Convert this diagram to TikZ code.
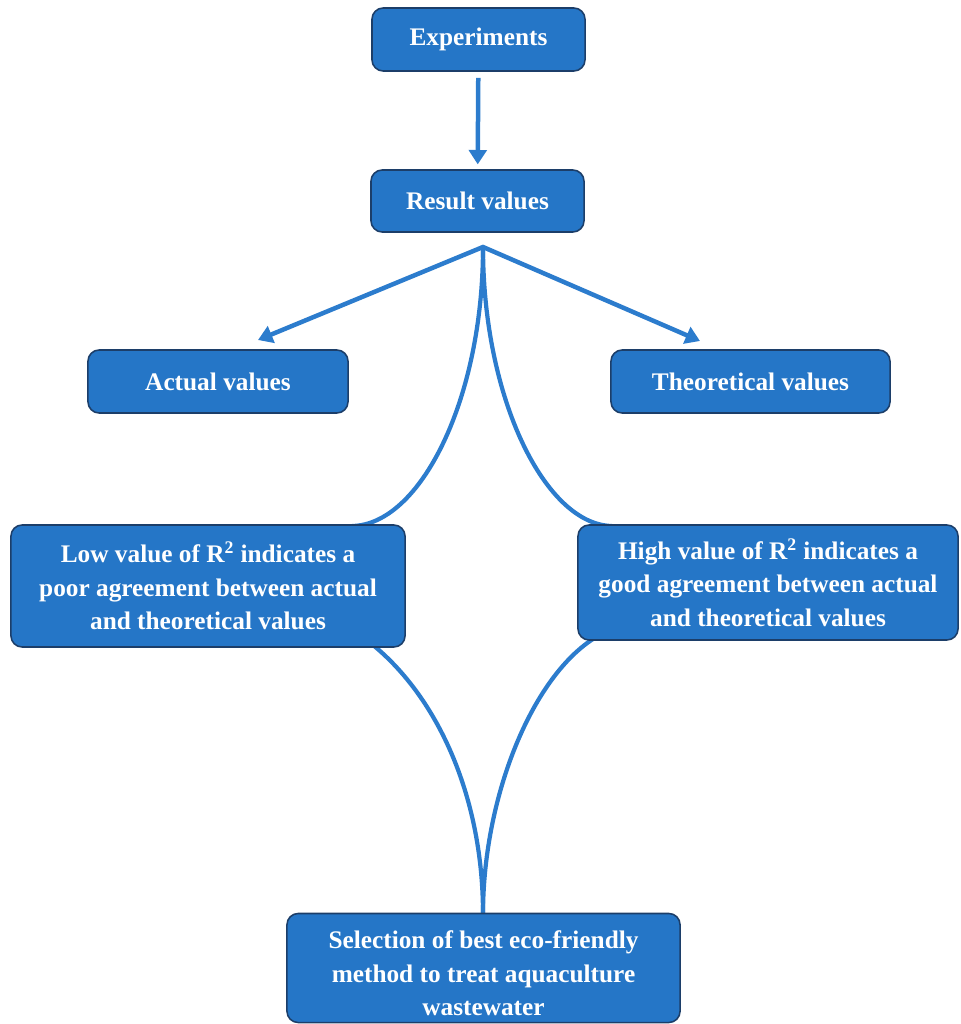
\documentclass[tikz,border=0pt]{standalone}
\usepackage{fontspec}
\setmainfont{Liberation Serif}
\usetikzlibrary{arrows.meta}

\definecolor{boxblue}{RGB}{37,118,199}
\definecolor{boxline}{RGB}{28,62,105}
\definecolor{linkblue}{RGB}{44,124,205}

\begin{document}
\begin{tikzpicture}[x=0.025cm,y=-0.025cm,
  box/.style={draw=boxline, line width=1.1pt, fill=boxblue, rounded corners=0.28cm,
    text=white, font=\bfseries\fontsize{18}{23.8}\selectfont, align=center, inner sep=0pt},
  link/.style={draw=linkblue, line width=3.2pt},
  tip/.style={-{Triangle[length=0.36cm,width=0.44cm]}}]

\useasboundingbox (0,0) rectangle (960,1024);

% split point under result values
\coordinate (split) at (483,247);
\coordinate (actin) at (258,340);
\coordinate (theoin) at (700,341);

% ends of the curves
\coordinate (lowtop) at (352,526);
\coordinate (hightop) at (612,526);
\coordinate (lowbot) at (373,645);
\coordinate (highbot) at (593,639);
\coordinate (selin) at (483,914);

% curves to the R2 boxes
\draw[link, line width=3pt] (split) .. controls (483,400) and (420,525) .. (lowtop);
\draw[link, line width=3pt] (split) .. controls (483,400) and (546,525) .. (hightop);

% curves down to the selection
\draw[link, line width=3pt] (lowbot) .. controls (440,700) and (483,800) .. (selin);
\draw[link, line width=3pt] (highbot) .. controls (530,680) and (483,800) .. (selin);

% experiments
\node[box, minimum width=5.325cm, minimum height=1.575cm] (exp) at (478.5,39.5) {Experiments};

% result values
\node[box, minimum width=5.325cm, minimum height=1.55cm] (res) at (477.5,201) {Result values};
\draw[link, tip, shorten <=0.15cm, shorten >=0.12cm] (exp) -- (res);

% actual / theoretical
\node[box, minimum width=6.5cm, minimum height=1.575cm] (act) at (218,381.5) {Actual values};
\node[box, minimum width=6.975cm, minimum height=1.575cm] (theo) at (750.5,381.5) {Theoretical values};
\draw[link, line join=miter, {Triangle[length=0.36cm,width=0.44cm]}-{Triangle[length=0.36cm,width=0.44cm]}]
  (actin) -- (split) -- (theoin);

% low / high value of R2
\node[box, minimum width=9.85cm, minimum height=3.05cm] (low) at (208,586)
  {Low value of R\textsuperscript{2} indicates a\\poor agreement between actual\\and theoretical values};
\node[box, minimum width=9.5cm, minimum height=2.875cm] (high) at (768,582.5)
  {High value of R\textsuperscript{2} indicates a\\good agreement between actual\\and theoretical values};

% selection
\node[box, minimum width=9.825cm, minimum height=2.725cm] (sel) at (483.5,968)
  {\rule{0pt}{0.72cm}Selection of best eco-friendly\\method to treat aquaculture\\wastewater};

\end{tikzpicture}
\end{document}
